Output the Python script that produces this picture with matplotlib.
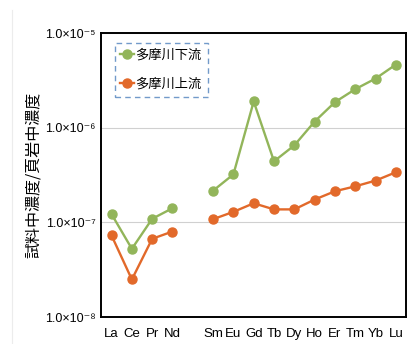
import matplotlib
matplotlib.use("Agg")
import matplotlib.pyplot as plt
import numpy as np

plt.rcParams['font.family'] = ['Liberation Sans', 'Noto Sans CJK JP', 'DejaVu Sans']

# rare earth elements (Pm not measured -> gap at position 4)
elements = ["La", "Ce", "Pr", "Nd", "Sm", "Eu", "Gd", "Tb", "Dy", "Ho", "Er", "Tm", "Yb", "Lu"]
positions = [0, 1, 2, 3, 5, 6, 7, 8, 9, 10, 11, 12, 13, 14]

lower = [1.22e-7, 5.25e-8, 1.09e-7, 1.41e-7,
         2.16e-7, 3.21e-7, 1.89e-6, 4.41e-7, 6.50e-7, 1.16e-6, 1.86e-6, 2.55e-6, 3.30e-6, 4.64e-6]
upper = [7.26e-8, 2.49e-8, 6.70e-8, 8.00e-8,
         1.08e-7, 1.29e-7, 1.59e-7, 1.37e-7, 1.37e-7, 1.74e-7, 2.13e-7, 2.40e-7, 2.76e-7, 3.38e-7]
ytick_vals = [1e-8, 1e-7, 1e-6, 1e-5]
ytick_labels = ['1.0×10⁻⁸', '1.0×10⁻⁷', '1.0×10⁻⁶', '1.0×10⁻⁵']

green = '#92b55a'
orange = '#e2692a'

fig = plt.figure(figsize=(4.13, 3.44), dpi=100)
# faint slide border on the left
fig.add_artist(plt.Line2D([12 / 413, 12 / 413], [0, 1 - 10 / 344], color='#ececec', lw=0.8))

ax = fig.add_axes([101 / 413, 1 - 317 / 344, 305 / 413, 284 / 344])

# draw the two groups separately so the line breaks at Pm
for vals, col, lab in [(lower, green, '多摩川下流'), (upper, orange, '多摩川上流')]:
    ax.plot(positions[:4], vals[:4], '-o', color=col, lw=1.7, ms=6.5, label=lab)
    ax.plot(positions[4:], vals[4:], '-o', color=col, lw=1.7, ms=6.5)

ax.set_yscale('log')
ax.set_ylim(1e-8, 1e-5)
ax.set_xlim(-0.52, 14.5)
ax.set_yticks(ytick_vals)
ax.set_yticklabels(ytick_labels, family=['Liberation Sans', 'DejaVu Sans'])
ax.minorticks_off()
ax.set_xticks(positions)
ax.set_xticklabels(elements)
ax.tick_params(length=0, labelsize=9.5, pad=8)
ax.tick_params(axis='y', pad=4, labelsize=9)
ax.grid(axis='y', color='#d0d0d0', lw=0.8)
ax.set_axisbelow(True)
for s in ax.spines.values():
    s.set_linewidth(1.4)
    s.set_color('black')

ax.set_ylabel('試料中濃度/頁岩中濃度', fontsize=11.5, family=['Noto Sans CJK JP', 'DejaVu Sans'], labelpad=2)

leg = ax.legend(loc='upper left', bbox_to_anchor=(0.04, 0.97),
                prop={'family': ['Noto Sans CJK JP', 'DejaVu Sans'], 'size': 9.5},
                handlelength=1.0, handletextpad=0.15, labelspacing=1.2,
                fancybox=False, borderpad=0.45, borderaxespad=0.1)
fr = leg.get_frame()
fr.set_edgecolor('#4f81bd')
fr.set_linestyle((0, (4, 3)))
fr.set_linewidth(1.0)

fig.savefig('out.png', dpi=100)
